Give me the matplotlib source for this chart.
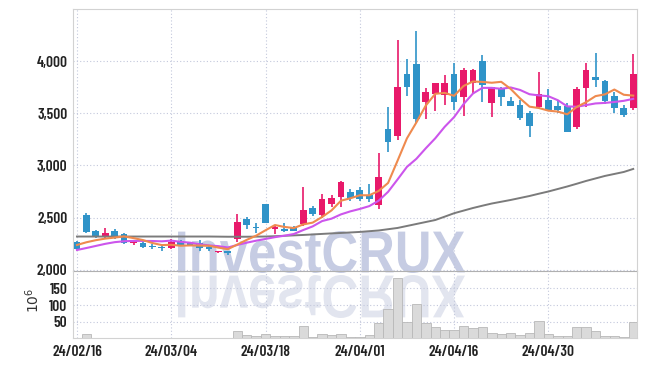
import matplotlib
matplotlib.use("Agg")
import matplotlib.pyplot as plt
from matplotlib.textpath import TextPath
from matplotlib.patches import PathPatch
from matplotlib.font_manager import FontProperties
from matplotlib.transforms import Affine2D

# daily OHLC (KRW), 60 trading days 24/02/16 .. 24/05
opens = [2265, 2526, 2373, 2325, 2373, 2345, 2255, 2262, 2233, 2223,
         2208, 2281, 2255, 2262, 2223, 2169, 2185, 2294, 2487, 2415,
         2632, 2391, 2396, 2412, 2440, 2593, 2526, 2629, 2702, 2742,
         2765, 2718, 2622, 3349, 3285, 3876, 3971, 3604, 3680, 3675,
         3876, 3660, 3792, 4000, 3595, 3729, 3621, 3579, 3506, 3563,
         3627, 3569, 3569, 3366, 3745, 3843, 3808, 3665, 3547, 3553]
highs = [2278, 2542, 2380, 2400, 2392, 2355, 2290, 2287, 2249, 2225,
         2297, 2290, 2265, 2290, 2240, 2185, 2185, 2533, 2510, 2447,
         2635, 2430, 2447, 2420, 2792, 2615, 2727, 2714, 2855, 2774,
         2790, 2820, 3117, 3563, 4201, 4019, 4287, 3744, 3792, 3866,
         3978, 3930, 3925, 4058, 3755, 3755, 3659, 3627, 3526, 3892,
         3732, 3627, 3600, 3755, 3978, 4074, 3820, 3700, 3580, 4065]
lows = [2190, 2350, 2303, 2310, 2297, 2250, 2239, 2208, 2204, 2185,
        2205, 2230, 2230, 2185, 2185, 2165, 2144, 2265, 2391, 2351,
        2445, 2345, 2368, 2370, 2421, 2517, 2495, 2600, 2607, 2657,
        2660, 2654, 2584, 3132, 3244, 3668, 3404, 3445, 3522, 3579,
        3531, 3474, 3697, 3611, 3461, 3573, 3565, 3440, 3270, 3550,
        3520, 3502, 3324, 3347, 3563, 3755, 3590, 3498, 3460, 3530]
closes = [2200, 2367, 2319, 2357, 2309, 2255, 2287, 2223, 2217, 2208,
          2272, 2239, 2239, 2208, 2201, 2185, 2160, 2463, 2431, 2400,
          2447, 2410, 2370, 2377, 2574, 2533, 2679, 2689, 2842, 2688,
          2677, 2679, 2894, 3228, 3749, 3749, 3442, 3700, 3790, 3792,
          3611, 3914, 3914, 3770, 3749, 3659, 3573, 3458, 3378, 3684,
          3531, 3531, 3324, 3732, 3914, 3818, 3617, 3553, 3483, 3876]

# moving averages as drawn on the chart
ma5 = [2239, 2265, 2285, 2300, 2310, 2321, 2305, 2286, 2258, 2238,
       2241, 2232, 2235, 2233, 2232, 2214, 2199, 2243, 2288, 2328,
       2380, 2430, 2412, 2401, 2436, 2453, 2507, 2570, 2663, 2686,
       2715, 2715, 2756, 2833, 3045, 3260, 3412, 3574, 3686, 3695,
       3667, 3761, 3804, 3800, 3792, 3801, 3733, 3642, 3563, 3550,
       3525, 3516, 3490, 3560, 3606, 3664, 3681, 3727, 3677, 3669]
ma10 = [2191, 2210, 2230, 2250, 2266, 2275, 2278, 2278, 2277, 2274,
        2281, 2269, 2261, 2246, 2235, 2228, 2215, 2239, 2261, 2280,
        2297, 2314, 2328, 2344, 2382, 2417, 2468, 2491, 2532, 2561,
        2584, 2611, 2663, 2748, 2866, 2987, 3064, 3165, 3260, 3370,
        3463, 3587, 3689, 3743, 3743, 3734, 3747, 3723, 3682, 3671,
        3663, 3625, 3566, 3562, 3578, 3594, 3599, 3608, 3619, 3638]
ma_long = [2320, 2320, 2320, 2320, 2320, 2320, 2320, 2320, 2320, 2320,
           2320, 2320, 2320, 2320, 2320, 2319, 2318, 2318, 2318, 2319,
           2320, 2323, 2327, 2331, 2335, 2340, 2345, 2350, 2354, 2359,
           2364, 2371, 2378, 2390, 2402, 2421, 2440, 2459, 2478, 2510,
           2543, 2568, 2593, 2615, 2636, 2653, 2670, 2689, 2708, 2730,
           2751, 2775, 2799, 2825, 2852, 2876, 2900, 2919, 2938, 2967]

# volume in millions
volume = [0, 12, 0, 0, 0, 0, 0, 0, 0, 0,
          0, 0, 0, 0, 0, 0, 0, 22, 10, 6,
          13, 6, 6, 6, 37, 5, 12, 9, 13, 5,
          4, 9, 45, 87, 180, 49, 103, 45, 33, 24,
          24, 36, 30, 33, 15, 12, 15, 9, 15, 52,
          12, 8, 8, 34, 34, 21, 8, 8, 5, 48]

tick_pos = [0, 10, 20, 30, 40, 50]
tick_labels = ["24/02/16", "24/03/04", "24/03/18", "24/04/01", "24/04/16", "24/04/30"]
price_ticks = [2000, 2500, 3000, 3500, 4000]
vol_ticks = [50, 100, 150]

up_color = "#e8196a"
down_color = "#2f93c8"
grid_color = "#c3c8dc"
label_font = FontProperties(family="Barlow Condensed", weight=600, size=11)

W, H = 647, 366
fig = plt.figure(figsize=(W / 100, H / 100), dpi=100, facecolor="white")
ax = fig.add_axes([73 / W, 1 - 271 / H, 564 / W, 262 / H], facecolor="none")
axv = fig.add_axes([73 / W, 1 - 338.4 / H, 564 / W, 67.4 / H], facecolor="none", sharex=ax)

# watermark + its mirror image
def wordmark(x0, x1, y0, y1, flip, color):
    tp = TextPath((0, 0), "InvestCRUX", size=100,
                  prop=FontProperties(family="Liberation Sans", weight="bold"))
    ext = tp.get_extents()
    tr = Affine2D().translate(-ext.x0, -ext.y0).scale((x1 - x0) / ext.width, (y1 - y0) / ext.height)
    if flip:
        tr = tr.scale(1, -1).translate(x0, y1)
    else:
        tr = tr.translate(x0, y0)
    fig.add_artist(PathPatch(tp, facecolor=color, edgecolor="none", transform=tr, zorder=-5))

wordmark(178, 465, H - 273, H - 231, False, "#c6cce3")
wordmark(178, 465, H - 318, H - 275, True, "#e2e5ef")

x = list(range(len(closes)))
colors = [up_color if c >= o else down_color for o, c in zip(opens, closes)]
bottoms = [min(o, c) for o, c in zip(opens, closes)]
heights = [max(abs(c - o), 6) for o, c in zip(opens, closes)]

ax.vlines(x, lows, highs, colors=colors, lw=1.2, zorder=3)
ax.bar(x, heights, bottom=bottoms, width=0.72, color=colors, zorder=3)
ax.plot(x, ma_long, color="#7b7b7b", lw=1.4, zorder=4)
ax.plot(x, ma10, color="#cc55ec", lw=1.5, zorder=4)
ax.plot(x, ma5, color="#ef8a4e", lw=1.5, zorder=5)

axv.bar(x, volume, width=1.0, color="#dadada", edgecolor="#b8b8b8", lw=0.6, zorder=3)

ax.set_xlim(-0.42, 59.4)
ax.set_ylim(1990, 4498)
axv.set_ylim(0, 202)

ax.set_yticks(price_ticks)
ax.set_yticklabels([f"{v:,}" for v in price_ticks])
axv.set_yticks(vol_ticks)
axv.set_yticklabels([str(v) for v in vol_ticks])
axv.set_xticks(tick_pos)
axv.set_xticklabels(tick_labels)

for a in (ax, axv):
    a.grid(True, color=grid_color, linestyle=(0, (1, 2)), lw=0.8, zorder=0)
    a.tick_params(length=0, colors="#222222", pad=4)
    for lab in a.get_yticklabels() + a.get_xticklabels():
        lab.set_fontproperties(label_font)
    for s in a.spines.values():
        s.set_color("#d2d2d2")
        s.set_linewidth(0.8)
ax.tick_params(axis="x", labelbottom=False)
ax.spines["bottom"].set_color("#b0b0b0")
axv.spines["top"].set_visible(False)
axv.tick_params(axis="x", pad=5)

fig.text(33 / W, 1 - 300 / H, r"$10^6$", rotation=90, ha="center", va="center",
         fontsize=10, color="#333333")

fig.savefig("out.png", dpi=100, facecolor="white")
